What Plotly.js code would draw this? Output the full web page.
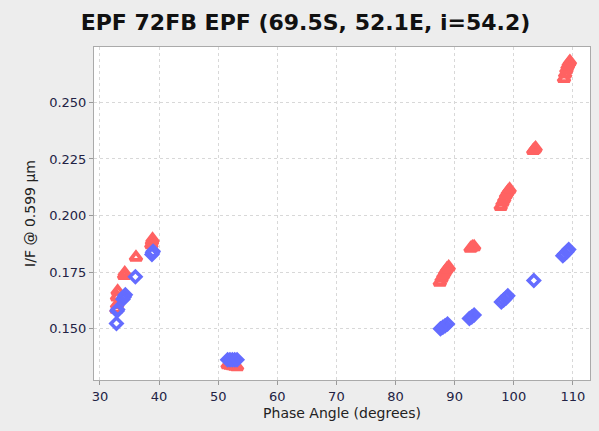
<!DOCTYPE html>
<html>
<head>
<meta charset="utf-8">
<script src="https://cdn.plot.ly/plotly-3.0.1.min.js"></script>
<style>html,body{margin:0;padding:0;background:#ededed;}#chart{width:599px;height:431px;}</style>
</head>
<body>
<div id="chart"></div>
<script>
// Red triangles (phase angle, I/F)
const redX = [32.8, 32.9, 32.9, 33.0, 34.1, 34.2, 36.1, 38.7, 38.8, 38.9,
  51.6, 52.0, 52.4, 52.8, 53.2,
  87.5, 87.8, 88.1, 88.4, 88.7, 89.0,
  92.7, 93.0, 93.3,
  97.8, 98.1, 98.4, 98.7, 99.0, 99.3,
  103.3, 103.5, 103.7,
  108.5, 108.7, 108.9, 109.1, 109.3, 109.5];
const redY = [0.1585, 0.1605, 0.1640, 0.1665, 0.1735, 0.1745, 0.1815, 0.1870, 0.1885, 0.1895,
  0.1340, 0.1338, 0.1336, 0.1333, 0.1331,
  0.1705, 0.1722, 0.1738, 0.1752, 0.1764, 0.1772,
  0.1855, 0.1860, 0.1862,
  0.2040, 0.2058, 0.2075, 0.2092, 0.2106, 0.2116,
  0.2287, 0.2292, 0.2298,
  0.2605, 0.2625, 0.2645, 0.2660, 0.2672, 0.2680];
// Blue diamonds
const blueX = [32.8, 32.9, 33.0, 33.9, 34.1, 34.3, 36.0, 38.8, 38.9, 39.0,
  51.6, 52.0, 52.4, 52.8, 53.2,
  87.6, 88.0, 88.4, 88.8,
  92.5, 92.9, 93.3,
  97.9, 98.3, 98.7, 99.0,
  103.4,
  108.3, 108.6, 109.0, 109.3];
const blueY = [0.1523, 0.1578, 0.1585, 0.1630, 0.1640, 0.1650, 0.1729, 0.1828, 0.1836, 0.1842,
  0.1362, 0.1363, 0.1363, 0.1363, 0.1362,
  0.1500, 0.1506, 0.1513, 0.1520,
  0.1545, 0.1552, 0.1560,
  0.1618, 0.1627, 0.1636, 0.1645,
  0.1713,
  0.1822, 0.1830, 0.1840, 0.1850];

const titleText = 'EPF 72FB EPF (69.5S, 52.1E, i=54.2)';
const xTitle = 'Phase Angle (degrees)';
const yTitle = 'I/F @ 0.599 µm';

const traces = [
  {x: redX, y: redY, type: 'scatter', mode: 'markers', hoverinfo: 'none',
   marker: {symbol: 'triangle-up-open', size: 10, color: 'rgb(255,98,98)', line: {width: 3.8, color: 'rgb(255,98,98)'}}},
  {x: blueX, y: blueY, type: 'scatter', mode: 'markers', hoverinfo: 'none',
   marker: {symbol: 'diamond-open', size: 8.5, color: 'rgb(100,108,255)', line: {width: 3.5, color: 'rgb(100,108,255)'}}}
];

const layout = {
  width: 599, height: 431,
  paper_bgcolor: '#ededed', plot_bgcolor: '#ffffff',
  showlegend: false,
  margin: {l: 94, r: 9, t: 47, b: 51},
  title: {text: titleText, x: 0.51, xanchor: 'center', y: 0.948, yanchor: 'middle',
          font: {family: 'DejaVu Sans', size: 22, color: '#111', weight: 'bold'}},
  xaxis: {range: [29, 112.9], dtick: 10, tick0: 30, showgrid: true,
          gridcolor: '#d8d8d8', griddash: '3px,3px', gridwidth: 1,
          zeroline: false, showline: true, linecolor: '#aaaaaa', linewidth: 1, mirror: true,
          ticks: 'outside', ticklen: 4, tickcolor: '#999',
          tickfont: {family: 'DejaVu Sans', size: 13, color: '#222244'},
          title: {text: xTitle, standoff: 5, font: {family: 'DejaVu Sans', size: 14, color: '#222'}}},
  yaxis: {range: [0.1273, 0.2745], dtick: 0.025, tick0: 0.15, tickformat: '.3f', showgrid: true,
          gridcolor: '#d8d8d8', griddash: '3px,3px', gridwidth: 1,
          zeroline: false, showline: true, linecolor: '#aaaaaa', linewidth: 1, mirror: true,
          ticks: 'outside', ticklen: 4, tickcolor: '#999',
          tickfont: {family: 'DejaVu Sans', size: 13, color: '#222244'},
          title: {text: yTitle, standoff: 10, font: {family: 'DejaVu Sans', size: 14, color: '#222'}}}
};

Plotly.newPlot('chart', traces, layout, {staticPlot: true, displayModeBar: false});
</script>
</body>
</html>
